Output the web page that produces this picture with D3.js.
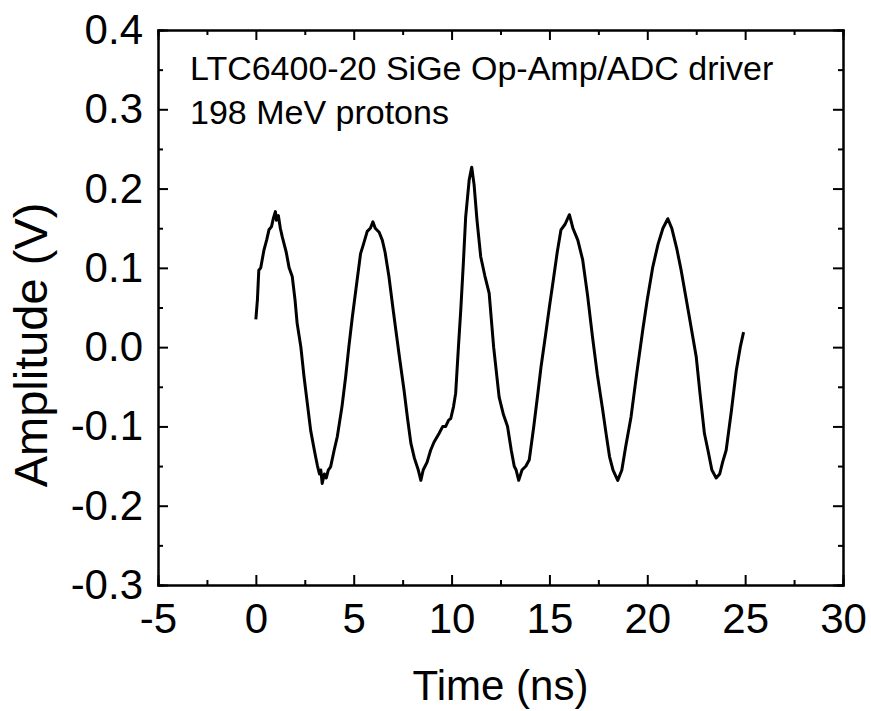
<!DOCTYPE html>
<html>
<head>
<meta charset="utf-8">
<script src="https://cdn.jsdelivr.net/npm/d3@7"></script>
<style>
body { margin: 0; background: #fff; }
svg text { font-family: "Liberation Sans", Arial, sans-serif; fill: #000; }
.axis path, .axis line { stroke: #000; stroke-width: 2; }
</style>
</head>
<body>
<div id="chart"></div>
<script>
// values
const time = [0.00, 0.08, 0.15, 0.25, 0.41, 0.55, 0.67, 0.80, 0.90, 1.00, 1.05, 1.15, 1.25, 1.35, 1.55, 1.70, 1.86, 2.00, 2.11, 2.30,
2.46, 2.65, 2.80, 2.95, 3.05, 3.15, 3.25, 3.32, 3.39, 3.50, 3.60, 3.70, 3.82, 4.00, 4.16, 4.40, 4.59, 4.75, 4.93, 5.15,
5.35, 5.50, 5.69, 5.85, 5.98, 6.10, 6.30, 6.46, 6.60, 6.80, 7.00, 7.15, 7.35, 7.57, 7.75, 7.92, 8.10, 8.30, 8.43, 8.55,
8.75, 8.93, 9.10, 9.36, 9.55, 9.70, 9.85, 9.96, 10.10, 10.21, 10.35, 10.47, 10.60, 10.72, 10.90, 11.03, 11.15, 11.30, 11.49, 11.70,
11.92, 12.15, 12.43, 12.65, 12.86, 13.05, 13.20, 13.30, 13.43, 13.60, 13.80, 13.97, 14.20, 14.40, 14.57, 14.80, 15.00, 15.20, 15.40, 15.59,
15.80, 16.02, 16.20, 16.45, 16.70, 16.95, 17.20, 17.45, 17.72, 17.90, 18.07, 18.25, 18.49, 18.70, 18.90, 19.17, 19.45, 19.77, 20.00, 20.28,
20.55, 20.80, 21.05, 21.25, 21.50, 21.73, 22.10, 22.50, 22.70, 22.92, 23.10, 23.30, 23.52, 23.70, 23.85, 24.03, 24.30, 24.55, 24.75, 24.92]

const amplitude = [0.035, 0.060, 0.097, 0.100, 0.122, 0.135, 0.148, 0.152, 0.163, 0.171, 0.160, 0.166, 0.150, 0.139, 0.120, 0.100, 0.089, 0.060, 0.030, 0.000,
-0.037, -0.075, -0.105, -0.125, -0.138, -0.150, -0.160, -0.155, -0.172, -0.160, -0.165, -0.155, -0.151, -0.130, -0.113, -0.075, -0.037, 0.000, 0.038, 0.080,
0.118, 0.130, 0.146, 0.150, 0.158, 0.150, 0.145, 0.135, 0.120, 0.089, 0.050, 0.022, -0.015, -0.054, -0.090, -0.121, -0.140, -0.155, -0.168, -0.155,
-0.145, -0.130, -0.120, -0.109, -0.100, -0.100, -0.092, -0.090, -0.075, -0.058, 0.000, 0.047, 0.105, 0.164, 0.211, 0.227, 0.205, 0.160, 0.114, 0.090,
0.068, 0.000, -0.063, -0.085, -0.100, -0.130, -0.150, -0.155, -0.168, -0.155, -0.150, -0.142, -0.100, -0.060, -0.025, 0.015, 0.051, 0.085, 0.120, 0.148,
0.155, 0.167, 0.150, 0.135, 0.110, 0.065, 0.013, -0.035, -0.079, -0.110, -0.138, -0.155, -0.168, -0.155, -0.125, -0.088, -0.035, 0.022, 0.060, 0.101,
0.130, 0.150, 0.162, 0.150, 0.125, 0.097, 0.045, -0.012, -0.060, -0.109, -0.130, -0.155, -0.165, -0.160, -0.145, -0.130, -0.080, -0.029, 0.000, 0.019]

const xTicks = [-5, 0, 5, 10, 15, 20, 25, 30]
const xMinor = [-2.5, 2.5, 7.5, 12.5, 17.5, 22.5, 27.5]
const yTicks = [-0.3, -0.2, -0.1, 0.0, 0.1, 0.2, 0.3, 0.4]
const yMinor = [-0.25, -0.15, -0.05, 0.05, 0.15, 0.25, 0.35]
const notes = ['LTC6400-20 SiGe Op-Amp/ADC driver', '198 MeV protons']

let width = 871
let height = 711
let margin = {top: 30, right: 28, bottom: 126, left: 158}

let svg = d3.select('#chart').append('svg')
.attr('width', width)
.attr('height', height)

let x = d3.scaleLinear()
.domain([-5, 30])
.range([margin.left, width - margin.right])

let y = d3.scaleLinear()
.domain([-0.3, 0.4])
.range([height - margin.bottom, margin.top])

// plain hyphen minus, as in the original
const fmtX = d => String(d)
const fmtY = d => d.toFixed(1)

// frame: labelled bottom/left, mirrored top/right
svg.append('g')
.attr('class', 'axis')
.attr('transform', `translate(0,${y(-0.3)})`)
.call(d3.axisBottom(x).tickValues(xTicks).tickSizeInner(-10).tickSizeOuter(0).tickPadding(18).tickFormat(fmtX))
.call(g => g.selectAll('text').style('font-size', '42px'))

svg.append('g')
.attr('class', 'axis')
.attr('transform', `translate(${x(-5)},0)`)
.call(d3.axisLeft(y).tickValues(yTicks).tickSizeInner(-10).tickSizeOuter(0).tickPadding(15).tickFormat(fmtY))
.call(g => g.selectAll('text').style('font-size', '42px'))

svg.append('g')
.attr('class', 'axis')
.attr('transform', `translate(0,${y(0.4)})`)
.call(d3.axisTop(x).tickValues(xTicks).tickSizeInner(-10).tickSizeOuter(0).tickFormat(''))

svg.append('g')
.attr('class', 'axis')
.attr('transform', `translate(${x(30)},0)`)
.call(d3.axisRight(y).tickValues(yTicks).tickSizeInner(-10).tickSizeOuter(0).tickFormat(''))

// minor ticks
svg.append('g').attr('class', 'axis').attr('transform', `translate(0,${y(-0.3)})`)
.call(d3.axisBottom(x).tickValues(xMinor).tickSize(-5).tickFormat(''))
svg.append('g').attr('class', 'axis').attr('transform', `translate(0,${y(0.4)})`)
.call(d3.axisTop(x).tickValues(xMinor).tickSize(-5).tickFormat(''))
svg.append('g').attr('class', 'axis').attr('transform', `translate(${x(-5)},0)`)
.call(d3.axisLeft(y).tickValues(yMinor).tickSize(-5).tickFormat(''))
svg.append('g').attr('class', 'axis').attr('transform', `translate(${x(30)},0)`)
.call(d3.axisRight(y).tickValues(yMinor).tickSize(-5).tickFormat(''))

svg.selectAll('.axis path.domain').attr('stroke-linecap', 'square')

let line = d3.line()
.x((d, i) => x(time[i]))
.y(d => y(d))

svg.append('path')
.datum(amplitude)
.attr('d', line)
.attr('fill', 'none')
.attr('stroke', '#000')
.attr('stroke-width', 3)
.attr('stroke-linejoin', 'round')

svg.append('g').selectAll('text')
.data(notes)
.enter()
.append('text')
.attr('x', 190)
.attr('y', (d, i) => 80 + i * 44)
.style('font-size', '34px')
.text(d => d)

svg.append('text')
.attr('x', (x(-5) + x(30)) / 2)
.attr('y', 700)
.attr('text-anchor', 'middle')
.style('font-size', '42px')
.text('Time (ns)')

svg.append('text')
.attr('transform', `translate(47,345) rotate(-90)`)
.attr('text-anchor', 'middle')
.style('font-size', '47px')
.text('Amplitude (V)')
</script>
</body>
</html>
